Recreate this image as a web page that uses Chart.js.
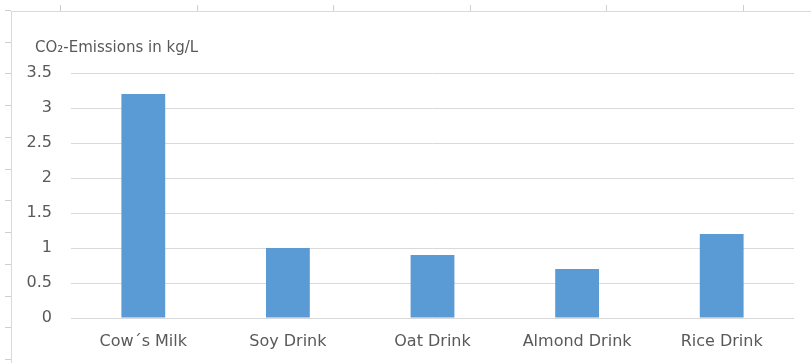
<!DOCTYPE html>
<html>
<head>
<meta charset="utf-8">
<script src="https://cdn.jsdelivr.net/npm/chart.js@4"></script>
<style>
  html, body { margin: 0; padding: 0; background: #fff; }
  #wrap { position: relative; width: 811px; height: 363px; overflow: hidden; }
  #wrap canvas { position: absolute; left: 0; top: 0; }
  /* sheet frame around the chart object */
  .frame { position: absolute; left: 11px; top: 11px; right: 0; bottom: 0;
    border-left: 1px solid #d9d9d9; border-top: 1px solid #d9d9d9; }
  .topTicks { position: absolute; left: 0; top: 5px; width: 811px; height: 6px;
    background: repeating-linear-gradient(90deg, transparent 0 60px, #cfcfcf 60px 61px, transparent 61px 136.6px); }
  .leftTicks { position: absolute; left: 5px; top: 0; width: 6px; height: 363px;
    background: repeating-linear-gradient(180deg, transparent 0 10px, #cfcfcf 10px 11px, transparent 11px 31.75px); }
</style>
</head>
<body>
<div id="wrap">
  <div class="topTicks"></div>
  <div class="leftTicks"></div>
  <div class="frame"></div>
  <canvas id="chart" width="811" height="363"></canvas>
</div>
<script>
// Chart data
const categories = ['Cow\u00b4s Milk', 'Soy Drink', 'Oat Drink', 'Almond Drink', 'Rice Drink'];
const emissions = [3.2, 1.0, 0.9, 0.7, 1.2];
const axisTitle = 'CO\u2082-Emissions in kg/L';
const yMax = 3.5;
const yStep = 0.5;

const textColor = '#595959';
const gridColor = '#d9d9d9';
const barColor = '#5b9bd5';
const fontFamily = '"DejaVu Sans", sans-serif';

// Axis title sits above the value labels, left aligned
const axisTitlePlugin = {
  id: 'axisTitle',
  afterDraw(chart) {
    const { ctx, chartArea } = chart;
    ctx.save();
    ctx.font = `15px ${fontFamily}`;
    ctx.fillStyle = textColor;
    ctx.textAlign = 'left';
    ctx.textBaseline = 'middle';
    ctx.fillText(axisTitle, chartArea.left - 36, chartArea.top - 25);
    ctx.restore();
  }
};

const ctx = document.getElementById('chart').getContext('2d');

new Chart(ctx, {
  type: 'bar',
  data: {
    labels: categories,
    datasets: [{
      data: emissions,
      backgroundColor: barColor,
      borderWidth: 0,
      barPercentage: 0.303,
      categoryPercentage: 1
    }]
  },
  options: {
    responsive: false,
    animation: false,
    layout: {
      padding: { left: 15, right: 17, top: 73, bottom: 12 }
    },
    plugins: {
      legend: { display: false },
      tooltip: { enabled: false }
    },
    scales: {
      x: {
        grid: { display: false, drawTicks: false },
        border: { display: false },
        afterFit: (scale) => { scale.height = 33; },
        ticks: {
          color: textColor,
          padding: 14,
          maxRotation: 0,
          font: { family: fontFamily, size: 16 }
        }
      },
      y: {
        min: 0,
        max: yMax,
        grid: { color: gridColor, lineWidth: 1, drawTicks: false },
        border: { display: false },
        afterFit: (scale) => { scale.width = 56; },
        ticks: {
          stepSize: yStep,
          color: textColor,
          padding: 19,
          font: { family: fontFamily, size: 16 },
          callback: (v) => String(v)
        }
      }
    }
  },
  plugins: [axisTitlePlugin]
});
</script>
</body>
</html>
